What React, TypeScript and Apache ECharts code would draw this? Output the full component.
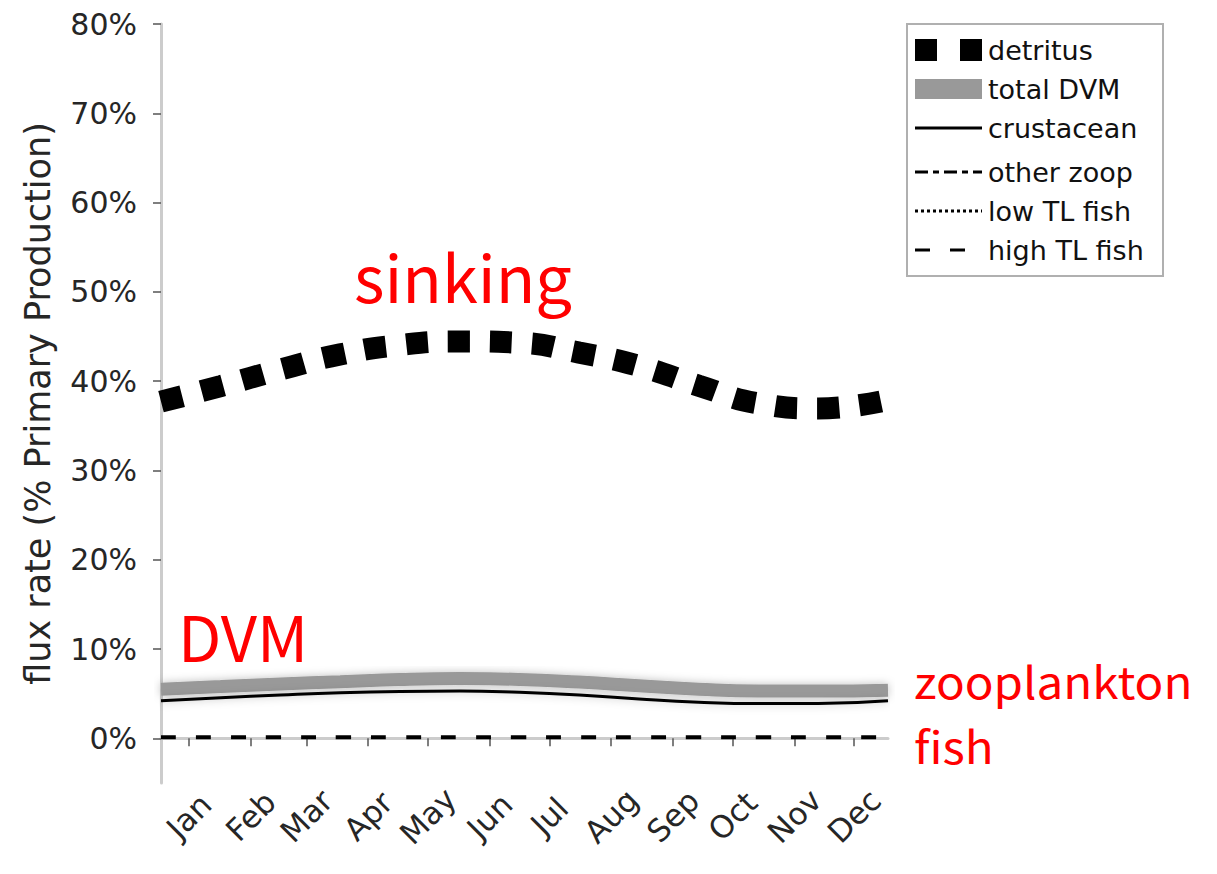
import React, { useEffect, useRef } from "react";
import * as echarts from "echarts";

const days = [0, 30, 60, 90, 120, 150, 180, 210, 240, 270, 300, 330, 365];
const detritus = [37.7, 39.45, 41.3, 43.0, 44.05, 44.45, 44.3, 43.2, 41.7, 39.5, 37.5, 36.95, 37.9];
const totalDVM = [5.5, 5.8, 6.1, 6.35, 6.6, 6.7, 6.6, 6.3, 5.9, 5.5, 5.3, 5.3, 5.4];
const crustacean = [4.2, 4.55, 4.85, 5.1, 5.25, 5.3, 5.15, 4.85, 4.4, 4.05, 3.9, 3.9, 4.2];
const otherZoop = [0.25, 0.25, 0.25, 0.25, 0.25, 0.25, 0.25, 0.25, 0.25, 0.25, 0.25, 0.25, 0.25];
const lowTLFish = [0.0, 0.0, 0.0, 0.0, 0.0, 0.0, 0.0, 0.0, 0.0, 0.0, 0.0, 0.0, 0.0];
const highTLFish = [0.12, 0.12, 0.12, 0.12, 0.12, 0.12, 0.12, 0.12, 0.12, 0.12, 0.12, 0.12, 0.12];

const monthNames = ["Jan", "Feb", "Mar", "Apr", "May", "Jun", "Jul", "Aug", "Sep", "Oct", "Nov", "Dec"];
const monthTickDays = [14, 45, 73, 104, 134, 165, 195, 226, 257, 287, 318, 348];
const yTicks = [0, 10, 20, 30, 40, 50, 60, 70, 80];

const legendNames = ["detritus", "total DVM", "crustacean", "other zoop", "low TL fish", "high TL fish"];

const pair = (vals: number[]) => days.map((d, i) => [d, vals[i]]);

export default function App() {
  const ref = useRef<HTMLDivElement>(null);
  useEffect(() => {
    document.body.style.margin = "0";
    const chart = echarts.init(ref.current!, null, { renderer: "svg" });
    const axisFont = "DejaVu Sans";
    const tickColor = "#262626";
    const lx0 = 915;
    const lx1 = 982;
    const rowY = [50, 89, 128, 172, 211, 250];
    const legendGraphics: any[] = [
      {
        type: "rect",
        shape: { x: 907, y: 24, width: 256, height: 252 },
        style: { fill: "#fff", stroke: "#b0b0b0", lineWidth: 2 },
        z: 10,
      },
      {
        type: "line",
        shape: { x1: lx0, y1: rowY[0], x2: lx1, y2: rowY[0] },
        style: { stroke: "#000", lineWidth: 22, lineDash: [22, 23], lineCap: "butt" },
        z: 11,
      },
      {
        type: "rect",
        shape: { x: lx0, y: rowY[1] - 10, width: lx1 - lx0, height: 20 },
        style: { fill: "#999" },
        z: 11,
      },
      {
        type: "line",
        shape: { x1: lx0, y1: rowY[2], x2: lx1, y2: rowY[2] },
        style: { stroke: "#000", lineWidth: 3 },
        z: 11,
      },
      {
        type: "line",
        shape: { x1: lx0, y1: rowY[3], x2: lx1, y2: rowY[3] },
        style: { stroke: "#000", lineWidth: 3, lineDash: [13, 5, 6, 5] },
        z: 11,
      },
      {
        type: "line",
        shape: { x1: lx0, y1: rowY[4], x2: lx1, y2: rowY[4] },
        style: { stroke: "#000", lineWidth: 3, lineDash: [3, 3] },
        z: 11,
      },
      {
        type: "line",
        shape: { x1: lx0, y1: rowY[5], x2: lx1, y2: rowY[5] },
        style: { stroke: "#000", lineWidth: 3, lineDash: [15, 20] },
        z: 11,
      },
      ...legendNames.map((n, i) => ({
        type: "text",
        x: 988,
        y: rowY[i],
        z: 11,
        style: {
          text: n,
          fill: "#111",
          font: `27px "${axisFont}"`,
          textVerticalAlign: "middle",
          textAlign: "left",
        },
      })),
    ];
    const redFont = '"Noto Sans CJK SC"';
    const annotations: any[] = [
      { text: "sinking", x: 354, y: 275, size: 65, sx: 1 },
      { text: "DVM", x: 178, y: 634, size: 63, sx: 1 },
      { text: "zooplankton", x: 914, y: 680, size: 44, sx: 1.08 },
      { text: "fish", x: 914, y: 745, size: 44, sx: 1.08 },
    ].map((a) => ({
      type: "text",
      x: a.x,
      y: a.y,
      scaleX: a.sx,
      z: 12,
      style: {
        text: a.text,
        fill: "#ff0000",
        fontSize: a.size,
        fontFamily: redFont,
        textVerticalAlign: "middle",
        textAlign: "left",
      },
    }));

    const halo = { shadowColor: "rgba(0,0,0,0.25)", shadowBlur: 8 };

    chart.setOption({
      animation: false,
      backgroundColor: "#fff",
      grid: { left: 161, top: 24, width: 727, height: 759, containLabel: false },
      xAxis: {
        type: "value",
        min: 0,
        max: 365,
        splitLine: { show: false },
        axisLine: { show: true, lineStyle: { color: "#cccccc", width: 3 } },
        axisTick: {
          show: true,
          customValues: monthTickDays,
          length: 8,
          lineStyle: { color: "#555", width: 1.5 },
        },
        axisLabel: {
          customValues: monthTickDays,
          formatter: (v: number) => monthNames[monthTickDays.indexOf(v)] ?? "",
          rotate: 45,
          align: "center",
          verticalAlign: "middle",
          margin: 33,
          fontFamily: axisFont,
          fontSize: 31,
          color: tickColor,
        },
      },
      yAxis: {
        type: "value",
        min: -5,
        max: 80,
        name: "flux rate (% Primary Production)",
        nameLocation: "middle",
        nameGap: 106,
        nameTextStyle: { fontFamily: axisFont, fontSize: 35, color: tickColor },
        splitLine: { show: false },
        axisLine: { show: true, lineStyle: { color: "#cccccc", width: 3 } },
        axisTick: {
          show: true,
          customValues: yTicks,
          length: 8,
          lineStyle: { color: "#555", width: 1.5 },
        },
        axisLabel: {
          customValues: yTicks,
          formatter: (v: number) => `${v}%`,
          margin: 24,
          fontFamily: axisFont,
          fontSize: 30,
          color: tickColor,
        },
      },
      series: [
        {
          name: "total DVM",
          type: "line",
          data: pair(totalDVM),
          smooth: true,
          showSymbol: false,
          lineStyle: { color: "#999", width: 13, ...halo },
          z: 2,
        },
        {
          name: "crustacean",
          type: "line",
          data: pair(crustacean),
          smooth: true,
          showSymbol: false,
          lineStyle: { color: "#000", width: 3, ...halo },
          z: 3,
        },
        {
          name: "other zoop",
          type: "line",
          data: pair(otherZoop),
          smooth: true,
          showSymbol: false,
          lineStyle: { color: "#000", width: 4, type: [13, 5, 6, 5], ...halo },
          z: 3,
        },
        {
          name: "low TL fish",
          type: "line",
          data: pair(lowTLFish),
          smooth: true,
          showSymbol: false,
          lineStyle: { color: "#000", width: 4, type: [3, 3], ...halo },
          z: 3,
        },
        {
          name: "high TL fish",
          type: "line",
          data: pair(highTLFish),
          smooth: true,
          showSymbol: false,
          lineStyle: { color: "#000", width: 4, type: [15, 20] },
          z: 3,
        },
        {
          name: "detritus",
          type: "line",
          data: pair(detritus),
          smooth: true,
          showSymbol: false,
          lineStyle: { color: "#000", width: 22, type: [22, 20], cap: "butt" },
          z: 4,
        },
      ],
      graphic: [...legendGraphics, ...annotations],
    });
    return () => chart.dispose();
  }, []);
  return <div ref={ref} style={{ width: 1217, height: 874 }} />;
}
